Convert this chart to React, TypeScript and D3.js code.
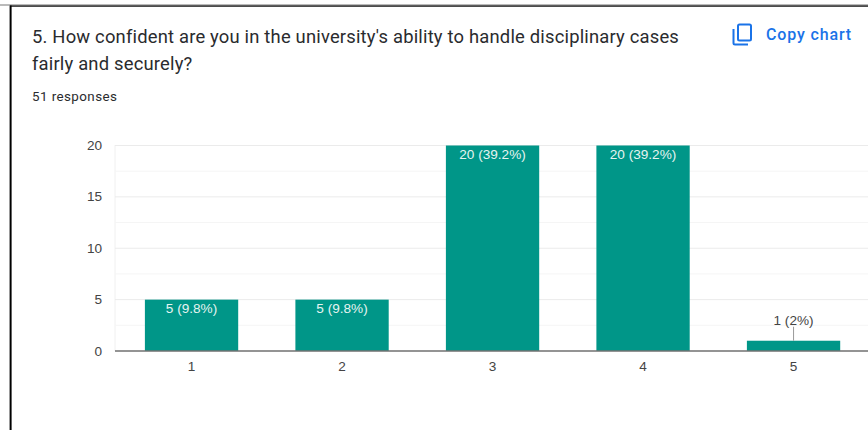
import React from "react";
import * as d3 from "d3";

const categories = ["1", "2", "3", "4", "5"];
const counts = [5, 5, 20, 20, 1];
const valueLabels = ["5 (9.8%)", "5 (9.8%)", "20 (39.2%)", "20 (39.2%)", "1 (2%)"];
const majorTicks = [0, 5, 10, 15, 20];
const minorTicks = [2.5, 7.5, 12.5, 17.5];
const titleLines = [
  "5. How confident are you in the university's ability to handle disciplinary cases",
  "fairly and securely?",
];
const responsesLabel = "51 responses";
const copyLabel = "Copy chart";

const W = 868;
const H = 430;
const UI_FONT = "Roboto, Arial, sans-serif";
const CHART_FONT = "'Liberation Sans', Arial, sans-serif";

export default function App() {
  const x = d3.scaleBand<string>().domain(categories).range([116.3, 868.8]).paddingInner(0.38).paddingOuter(0.19);
  const y = d3.scaleLinear().domain([0, 20]).range([351, 145.5]);

  return (
    <svg
      width={W}
      height={H}
      viewBox={`0 0 ${W} ${H}`}
      style={{ position: "absolute", left: 0, top: 0, background: "#fff" }}
    >
      {/* card frame */}
      <rect x={0} y={4.5} width={W} height={1} fill="#777" />
      <rect x={10} y={5.5} width={W - 10} height={1.2} fill="#000" />
      <rect x={9.6} y={5.5} width={2} height={H - 5} fill="#000" />

      {titleLines.map((line, i) => (
        <text key={line} x={32} y={42.5 + i * 27.5} fontFamily={UI_FONT} fontSize={18.4} letterSpacing={0.19} fill="#2a2b2e">
          {line}
        </text>
      ))}
      <text x={32} y={101} fontFamily={UI_FONT} fontSize={13.4} letterSpacing={0.42} fill="#2a2b2e">
        {responsesLabel}
      </text>

      {/* copy button */}
      <g fill="none" stroke="#1a73e8" strokeWidth={2}>
        <rect x={738} y={24.5} width={13} height={16} rx={1.5} />
        <path d="M733.5 29 V43 Q733.5 44.5 735 44.5 H748" />
      </g>
      <text x={766} y={40} fontFamily={UI_FONT} fontSize={16} fontWeight={500} letterSpacing={0.85} fill="#1a73e8">
        {copyLabel}
      </text>

      {/* gridlines */}
      <line x1={115} x2={115} y1={145} y2={351} stroke="#f0f0f0" />
      {minorTicks.map((t) => (
        <line key={t} x1={115} x2={W} y1={y(t)} y2={y(t)} stroke="#f5f5f5" />
      ))}
      {majorTicks.slice(1).map((t) => (
        <line key={t} x1={115} x2={W} y1={y(t)} y2={y(t)} stroke="#ebebeb" />
      ))}

      {majorTicks.map((t) => (
        <text
          key={t}
          x={102}
          y={y(t) + 4.5}
          textAnchor="end"
          fontFamily={CHART_FONT}
          fontSize={13.6}
          fill="#444"
        >
          {t}
        </text>
      ))}

      {/* bars */}
      {categories.map((c, i) => (
        <rect
          key={c}
          x={x(c)!}
          y={y(counts[i])}
          width={x.bandwidth()}
          height={y(0) - y(counts[i])}
          fill="#009688"
        />
      ))}

      <line x1={115} x2={W} y1={351} y2={351} stroke="#707070" strokeWidth={1.3} />

      {/* value labels: inside tall bars, above short ones with a leader */}
      {categories.map((c, i) => {
        const cx = x(c)! + x.bandwidth() / 2;
        const inside = counts[i] >= 5;
        return (
          <g key={c}>
            {!inside && (
              <line x1={cx} x2={cx} y1={y(counts[i])} y2={y(counts[i]) - 14} stroke="#9a9a9a" />
            )}
            <text
              x={cx}
              y={inside ? y(counts[i]) + 13.5 : y(counts[i]) - 16}
              textAnchor="middle"
              fontFamily={CHART_FONT}
              fontSize={13.6}
              fill={inside ? "#e6f4f1" : "#444"}
            >
              {valueLabels[i]}
            </text>
            <text x={cx} y={371} textAnchor="middle" fontFamily={CHART_FONT} fontSize={13.6} fill="#444">
              {c}
            </text>
          </g>
        );
      })}
    </svg>
  );
}
